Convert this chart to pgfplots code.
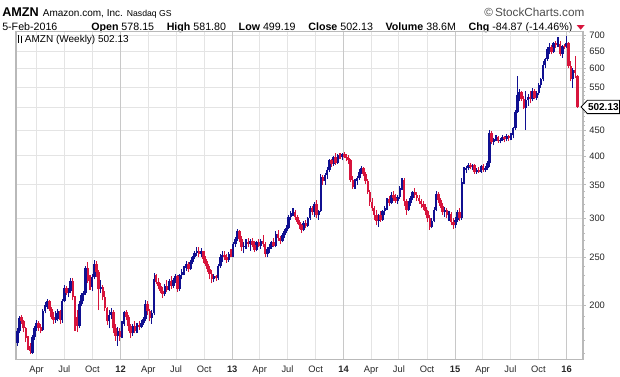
\documentclass[border=0pt]{standalone}
\usepackage{pgfplots}
\pgfplotsset{compat=1.18}
\usepackage{pgfplotstable}
\usepackage{fontspec}
\setmainfont{Liberation Sans}
\definecolor{cBlue}{RGB}{16,16,145}
\definecolor{cRed}{RGB}{215,20,60}
\definecolor{gridc}{RGB}{228,228,228}
\definecolor{yearc}{RGB}{200,200,200}
\definecolor{framec}{RGB}{185,185,185}

% weekly candles, x = week index (0 = 28-Jan-2011, 262 = 5-Feb-2016)
\pgfplotstableread{
x o h l c
0 168 180 166 178
1 178 191 176 189
7 161 175 160 173
8 173 182 171 180
9 180 187 178 185
12 179 197 178 195
13 195 203 193 201
14 199 206 197 204
18 187 195 185 193
19 188 197 186 195
21 187 206 185 204
22 204 220 203 217
24 212 217 208 214
25 214 227 212 224
29 182 204 180 202
30 202 212 200 210
31 210 214 204 212
32 212 240 210 238
35 218 232 214 228
36 228 247 226 243
39 216 225 212 218
43 186 196 180 192
44 192 198 188 194
47 174 181 166 178
49 174 186 172 184
50 184 195 182 194
54 176 184 174 182
56 178 185 176 183
58 181 187 180 185
59 185 190 183 188
60 188 205 186 202
63 189 196 184 193
64 193 233 192 226
69 211 221 209 219
71 215 226 214 224
73 219 227 217 225
74 225 232 222 229
76 216 232 214 230
77 230 237 226 234
78 234 240 230 238
79 238 246 235 242
81 237 247 236 245
82 245 252 243 250
83 250 258 248 255
84 255 262 252 258
86 254 261 250 257
92 226 232 223 229
94 227 243 225 240
95 240 254 238 251
96 251 257 245 253
99 247 256 245 254
101 251 268 250 266
102 266 275 263 272
103 272 285 270 282
106 262 268 255 264
107 264 272 260 269
109 266 272 258 270
112 259 270 257 268
114 264 272 260 270
117 254 262 250 260
118 260 266 255 263
119 263 270 260 268
121 264 282 262 279
124 270 280 268 278
125 278 285 274 283
126 283 290 280 287
127 287 305 285 302
128 302 310 298 307
129 307 315 303 309
134 284 296 282 293
136 289 302 288 300
137 300 318 298 314
139 308 323 302 320
141 304 312 298 310
142 310 368 309 363
144 356 370 350 366
145 366 380 360 375
146 375 395 372 392
148 386 400 382 398
150 388 404 386 402
152 398 406 392 404
158 347 360 344 357
159 357 364 350 361
160 361 376 358 372
161 372 382 368 378
169 296 306 288 304
171 298 312 296 310
172 310 318 304 315
173 315 330 312 328
175 322 338 320 334
178 325 334 320 331
179 331 348 328 345
180 345 362 342 358
183 312 325 310 322
184 322 333 318 330
185 330 340 326 338
194 288 300 286 296
195 296 316 294 312
196 312 340 310 335
200 308 316 302 312
202 304 310 296 306
205 290 302 287 298
206 298 312 295 309
208 300 362 298 355
209 355 380 352 375
210 375 382 370 378
211 378 388 374 384
213 380 386 374 383
215 372 378 368 375
217 372 384 370 381
219 375 382 371 378
220 378 390 375 388
221 388 452 380 445
223 426 435 420 432
224 432 440 428 436
226 428 434 424 430
227 430 440 428 436
229 432 442 428 438
231 434 444 430 440
232 440 458 434 455
233 455 495 452 490
234 490 580 488 530
235 530 545 515 538
238 500 540 452 518
239 518 532 505 526
241 520 548 515 540
243 524 540 518 536
244 536 560 530 555
245 555 575 548 570
246 570 622 565 610
247 610 630 600 626
248 626 662 622 655
249 655 675 640 662
251 648 678 645 675
253 668 693 662 672
255 640 668 630 664
257 663 696 660 676
260 570 600 548 596
}\blueT

\pgfplotstableread{
x o h l c
2 190 192 184 186
3 186 187 177 180
4 180 181 169 172
5 172 174 163 166
6 166 168 160 162
10 185 186 178 180
11 181 184 176 178
15 204 205 195 197
16 197 199 188 190
17 190 194 184 187
20 195 196 184 187
23 217 219 210 212
26 224 227 205 208
27 208 209 178 192
28 190 196 177 182
33 238 245 222 224
34 224 230 215 218
37 243 246 228 234
38 234 236 196 216
40 218 220 205 208
41 208 214 195 198
42 198 199 183 186
45 194 196 176 180
46 180 184 170 174
48 178 180 170 173
51 194 196 187 190
52 190 192 178 182
53 182 184 172 176
55 182 186 176 178
57 183 186 179 181
61 202 204 192 195
62 195 197 186 189
65 230 232 221 223
66 223 227 216 219
67 219 222 212 214
68 214 218 207 211
70 219 225 213 215
72 224 229 216 219
75 229 230 213 216
80 242 245 234 237
85 258 262 250 254
87 257 258 244 248
88 248 252 240 243
89 243 246 234 237
90 237 240 226 232
91 232 236 222 226
93 229 231 224 227
97 253 258 247 250
98 250 254 244 247
100 254 260 250 251
104 282 284 268 272
105 272 276 258 262
108 269 274 262 266
110 270 274 262 265
111 265 270 256 259
113 268 272 262 264
115 270 277 262 266
116 266 268 250 254
120 268 274 262 264
122 279 284 270 273
123 273 276 266 270
130 309 312 297 301
131 301 304 292 295
132 295 298 285 290
133 290 292 280 284
135 293 297 286 289
138 314 317 305 308
140 320 326 300 304
143 363 366 350 356
147 392 395 380 386
149 398 405 384 388
151 402 406 394 398
153 404 407 396 399
154 399 403 390 397
155 397 401 386 392
156 392 394 355 358
157 358 364 344 347
162 378 380 364 368
163 368 372 352 356
164 356 360 335 338
165 338 342 318 323
166 323 330 310 314
167 314 318 298 305
168 305 312 290 296
170 304 310 295 298
174 328 332 318 322
176 334 340 325 330
177 330 336 322 325
181 358 362 318 324
182 324 328 305 312
186 338 345 330 334
187 334 338 325 330
188 330 334 320 324
189 324 328 315 320
190 320 324 312 316
191 316 320 305 310
192 310 312 295 300
193 300 304 284 288
197 335 338 322 326
198 326 330 315 318
199 318 322 305 308
201 312 315 300 304
203 306 308 290 294
204 294 300 285 290
207 309 314 296 300
212 384 388 376 380
214 383 385 368 372
216 375 380 370 372
218 381 385 372 375
222 445 448 422 426
225 436 438 425 428
228 436 438 426 432
230 438 440 428 434
236 538 540 516 520
237 520 528 496 500
240 526 540 510 520
242 540 545 520 524
250 662 670 640 648
252 675 680 660 668
254 672 680 636 640
256 664 672 655 663
258 676 678 600 607
259 607 620 565 570
261 596 636 575 587
262 578.15 581.80 499.19 502.13
}\redT

\begin{document}
\begin{tikzpicture}
\useasboundingbox (0pt,0pt) rectangle (465pt,282pt);
% header
\node[anchor=base west, inner sep=0pt] at (1.5pt,269.5pt)
  {{\fontsize{9.5}{10}\selectfont\bfseries AMZN}\hspace{3pt}{\fontsize{7.5}{9}\selectfont Amazon.com, Inc.}\hspace{3pt}{\fontsize{6.5}{8}\selectfont Nasdaq GS}};
\node[anchor=base east, inner sep=0pt, text=black!70, font=\fontsize{8.8}{10}\selectfont] at (438.5pt,269.5pt) {\textcopyright\,StockCharts.com};
\node[anchor=base west, inner sep=0pt, font=\fontsize{8}{9}\selectfont] at (1.5pt,259.5pt) {5-Feb-2016};
\node[anchor=base east, inner sep=0pt, font=\fontsize{8}{9}\selectfont] at (429.5pt,259.5pt)
  {\textbf{Open} 578.15\hspace{9.5pt}\textbf{High} 581.80\hspace{9.5pt}\textbf{Low} 499.19\hspace{9.5pt}\textbf{Close} 502.13\hspace{9.5pt}\textbf{Volume} 38.6M\hspace{9.5pt}\textbf{Chg} -84.87 (-14.46\%)};
\fill[cRed] (432.5pt,263.2pt) -- (438.5pt,263.2pt) -- (435.5pt,259.7pt) -- cycle;
\begin{axis}[
  at={(12pt,12.5pt)}, anchor=south west, scale only axis,
  width=425.25pt, height=245.7pt,
  xmin=-0.61, xmax=264.7,
  ymode=log, ymin=156, ymax=711,
  axis line style={framec, line width=0.9pt},
  xtick={9.0,22.0,35.14,61.29,74.29,87.43,113.43,126.43,139.57,165.57,178.57,191.71,217.71,230.71,243.86},
  xticklabels={Apr,Jul,Oct,Apr,Jul,Oct,Apr,Jul,Oct,Apr,Jul,Oct,Apr,Jul,Oct},
  extra x ticks={48.29,100.57,152.71,204.86,257.0},
  extra x tick labels={\textbf{12},\textbf{13},\textbf{14},\textbf{15},\textbf{16}},
  extra x tick style={grid=major, major grid style={yearc, line width=0.8pt}},
  xmajorgrids, ymajorgrids,
  major grid style={gridc, line width=0.75pt},
  ytick={200,250,300,350,400,450,500,550,600,650,700},
  yticklabels={200,250,300,350,400,450,,550,600,650,700},
  minor ytick={160,170,180,190,210,220,230,240,260,270,280,290,310,320,330,340,360,370,380,390,410,420,430,440,460,470,480,490,510,520,530,540,560,570,580,590,610,620,630,640,660,670,680,690},
  ytick pos=right, yticklabel pos=right,
  xtick pos=bottom,
  x tick style={draw=none},
  y tick style={framec, line width=0.6pt},
  tick align=outside,
  major tick length=2.2pt, minor tick length=1.3pt,
  tick label style={font=\fontsize{7}{8}\selectfont, text=black!85},
  yticklabel style={xshift=-1pt},
  xticklabel style={yshift=1pt},
  cand/.style={draw=none, mark=none, forget plot, error bars/.cd, y dir=plus, y explicit, error mark=none},
]
\addplot[cand, error bar style={draw=cBlue, line width=0.8pt}]
  table[x=x, y=l, y error expr=\thisrow{h}-\thisrow{l}] {\blueT};
\addplot[cand, error bar style={draw=cBlue, line width=1.9pt}]
  table[x=x, y=o, y error expr=\thisrow{c}-\thisrow{o}] {\blueT};
\addplot[cand, error bar style={draw=cRed, line width=0.8pt}]
  table[x=x, y=l, y error expr=\thisrow{h}-\thisrow{l}] {\redT};
\addplot[cand, error bar style={draw=cRed, line width=1.9pt}]
  table[x=x, y=c, y error expr=\thisrow{o}-\thisrow{c}] {\redT};
\end{axis}
% legend label
\draw[black, line width=0.6pt] (13.8pt,250.0pt) -- (13.8pt,255.5pt);
\draw[black, line width=1.2pt] (13.8pt,251.2pt) -- (13.8pt,254.2pt);
\draw[black, line width=0.6pt] (16.2pt,249.5pt) -- (16.2pt,254.8pt);
\draw[black, line width=1.2pt] (16.2pt,250.5pt) -- (16.2pt,253.6pt);
\node[anchor=base west, inner sep=0pt, font=\fontsize{7.5}{9}\selectfont] at (18.5pt,250pt) {AMZN (Weekly) 502.13};
% last price tag
\draw[black, line width=0.6pt, fill=white] (435.8pt,201.8pt) -- (440.5pt,206.8pt) -- (464.6pt,206.8pt) -- (464.6pt,196.8pt) -- (440.5pt,196.8pt) -- cycle;
\node[font=\fontsize{7.5}{9}\selectfont\bfseries, inner sep=0pt] at (452.5pt,201.8pt) {502.13};
\end{tikzpicture}
\end{document}
